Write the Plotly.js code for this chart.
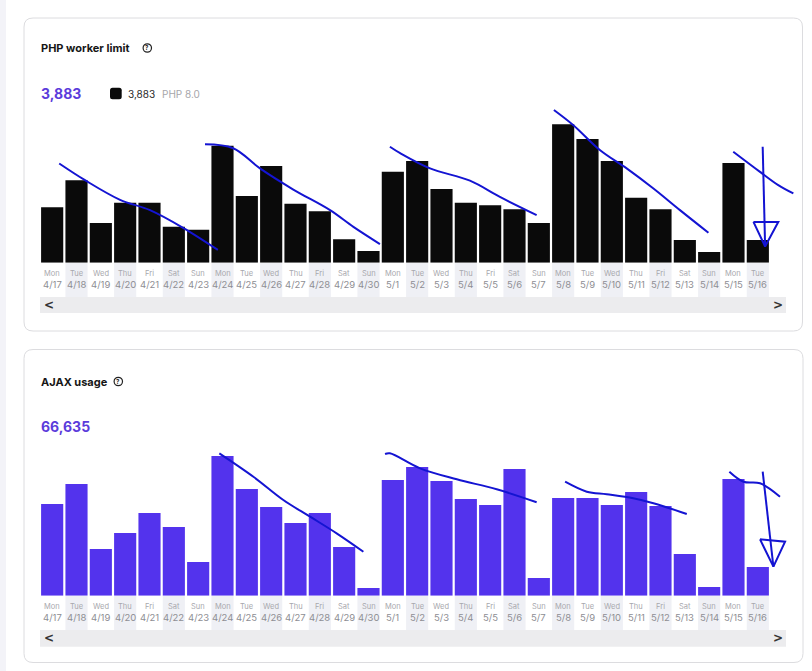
<!DOCTYPE html>
<html>
<head>
<meta charset="utf-8">
<script src="https://cdn.plot.ly/plotly-3.0.1.min.js"></script>
<style>
  html, body { margin: 0; padding: 0; background: #ffffff; }
  #chart { width: 812px; height: 671px; }
</style>
</head>
<body>
<div id="chart"></div>
<script>
// ---- Data ----
const days = ['Mon','Tue','Wed','Thu','Fri','Sat','Sun','Mon','Tue','Wed','Thu','Fri','Sat','Sun',
              'Mon','Tue','Wed','Thu','Fri','Sat','Sun','Mon','Tue','Wed','Thu','Fri','Sat','Sun','Mon','Tue'];
const dates = ['4/17','4/18','4/19','4/20','4/21','4/22','4/23','4/24','4/25','4/26','4/27','4/28','4/29','4/30',
               '5/1','5/2','5/3','5/4','5/5','5/6','5/7','5/8','5/9','5/10','5/11','5/12','5/13','5/14','5/15','5/16'];
const phpWorkerLimit = [113,168,81,122,122,73,67,238,136,197,120,105,48,24,185,207,150,122,117,109,81,282,252,207,132,109,46,22,203,46];
const ajaxUsage = [2535,3087,1291,1733,2286,1899,931,3861,2949,2452,2009,2286,1346,213,3198,3557,3170,2673,2507,3502,489,2700,2700,2507,2866,2479,1153,240,3226,793];
const phpTotal = '3,883';
const phpVersion = 'PHP 8.0';
const ajaxTotal = '66,635';

// Hand-drawn trend strokes (x = day index, y = value on that chart's scale)
const phpStrokesX = [
  [0.29,1.35,2.79,4.02,5.38,6.81],
  [6.28,7.44,8.54,9.91,11.42,12.38,13.47],
  [13.88,14.3,15.53,17.17,18.4,19.91],
  [20.62,21.42,22.52,23.61,24.71,25.8,26.97],
  [27.99,29.09,29.84,30.46],
  [29.2,29.3]
];
const phpStrokesY = [
  [202,168,128,107,71,26],
  [241,233,192,149,107,73,38],
  [236,223,192,167,134,97],
  [311,280,229,192,151,107,61],
  [226,185,158,141],
  [236,33]
];
const phpArrowX = [28.82,29.84,29.3,28.82];
const phpArrowY = [83,83,33,83];
const ajaxStrokesX = [
  [6.87,8.27,9.5,10.6,11.69,12.79],
  [13.68,13.88,15.12,16.63,18.27,19.91],
  [21.08,21.97,22.79,23.88,24.71,26.08],
  [27.83,28.41,29.09,29.91],
  [29.2,29.64]
];
const ajaxStrokesY = [
  [3936,3289,2645,2184,1725,1216],
  [3917,3936,3521,3217,2941,2582],
  [3151,2875,2803,2692,2554,2258],
  [3427,3151,3107,2736],
  [3427,802]
];
const ajaxArrowX = [29.09,30.12,29.64,29.09];
const ajaxArrowY = [1559,1493,802,1559];

// ---- Layout helpers (pixel -> paper) ----
const W = 812, H = 671;
const fx = x => x / W;
const fy = y => 1 - y / H;
function roundRect(x0, y0, x1, y1, r) {
  const X = fx, Y = fy;
  return `M ${X(x0 + r)} ${Y(y0)} L ${X(x1 - r)} ${Y(y0)} Q ${X(x1)} ${Y(y0)} ${X(x1)} ${Y(y0 + r)} ` +
         `L ${X(x1)} ${Y(y1 - r)} Q ${X(x1)} ${Y(y1)} ${X(x1 - r)} ${Y(y1)} ` +
         `L ${X(x0 + r)} ${Y(y1)} Q ${X(x0)} ${Y(y1)} ${X(x0)} ${Y(y1 - r)} ` +
         `L ${X(x0)} ${Y(y0 + r)} Q ${X(x0)} ${Y(y0)} ${X(x0 + r)} ${Y(y0)} Z`;
}

const idx = dates.map((d, i) => i);
const purple = '#5333ed';
const strokeColor = '#1414d2';

const traces = [
  { type: 'bar', x: idx, y: phpWorkerLimit, xaxis: 'x', yaxis: 'y',
    marker: { color: '#0a0a0a' }, hoverinfo: 'skip' },
  { type: 'bar', x: idx, y: ajaxUsage, xaxis: 'x2', yaxis: 'y2',
    marker: { color: purple }, hoverinfo: 'skip' }
];
phpStrokesX.forEach((xs, k) => traces.push({
  type: 'scatter', mode: 'lines', x: xs, y: phpStrokesY[k], xaxis: 'x', yaxis: 'y',
  line: { color: strokeColor, width: 2, shape: 'spline' }, hoverinfo: 'skip'
}));
traces.push({ type: 'scatter', mode: 'lines', x: phpArrowX, y: phpArrowY, xaxis: 'x', yaxis: 'y',
  line: { color: strokeColor, width: 2 }, hoverinfo: 'skip' });
ajaxStrokesX.forEach((xs, k) => traces.push({
  type: 'scatter', mode: 'lines', x: xs, y: ajaxStrokesY[k], xaxis: 'x2', yaxis: 'y2',
  line: { color: strokeColor, width: 2, shape: 'spline' }, hoverinfo: 'skip'
}));
traces.push({ type: 'scatter', mode: 'lines', x: ajaxArrowX, y: ajaxArrowY, xaxis: 'x2', yaxis: 'y2',
  line: { color: strokeColor, width: 2 }, hoverinfo: 'skip' });

// geometry
const pitch = 24.333;
const xDom = [fx(40), fx(40 + pitch * 31.5)];
const base1 = 262.7, scale1 = 2.036, top1 = 320;
const base2 = 595.7, scale2 = 27.64, top2 = 4000;

const shapes = [];
const annotations = [];

// left strip
shapes.push({ type: 'rect', xref: 'paper', yref: 'paper', x0: 0, x1: fx(6), y0: 0, y1: 1,
  fillcolor: '#f3f3f8', line: { width: 0 }, layer: 'below' });
// cards
shapes.push({ type: 'path', xref: 'paper', yref: 'paper', path: roundRect(24, 18, 802.5, 331, 9),
  fillcolor: '#ffffff', line: { color: '#dcdcdf', width: 1 }, layer: 'below' });
shapes.push({ type: 'path', xref: 'paper', yref: 'paper', path: roundRect(24, 349.5, 803, 662.5, 9),
  fillcolor: '#ffffff', line: { color: '#dcdcdf', width: 1 }, layer: 'below' });

function panel(xref, labelTop, labelBottom, scrollTop, scrollBottom, dayY, dateY) {
  dates.forEach((d, i) => {
    if (i % 2 === 1) {
      shapes.push({ type: 'rect', xref: xref, yref: 'paper', x0: i - 0.455, x1: i + 0.455,
        y0: fy(labelBottom), y1: fy(labelTop), fillcolor: '#eff0f5', line: { width: 0 }, layer: 'below' });
    }
    annotations.push({ xref: xref, yref: 'paper', x: i, y: fy(dayY), text: days[i], showarrow: false,
      xanchor: 'center', yanchor: 'middle', font: { family: 'Inter, Roboto, sans-serif', size: 7.5, color: '#a8a8ad' } });
    annotations.push({ xref: xref, yref: 'paper', x: i, y: fy(dateY), text: d, showarrow: false,
      xanchor: 'center', yanchor: 'middle', font: { family: 'Inter, Roboto, sans-serif', size: 9.5, color: '#8e8e93' } });
  });
  shapes.push({ type: 'rect', xref: 'paper', yref: 'paper', x0: fx(40), x1: fx(786),
    y0: fy(scrollBottom), y1: fy(scrollTop), fillcolor: '#ececee', line: { width: 0 }, layer: 'below' });
  annotations.push({ xref: 'paper', yref: 'paper', x: fx(48.5), y: fy((scrollTop + scrollBottom) / 2), text: '<b>&lt;</b>',
    showarrow: false, xanchor: 'center', yanchor: 'middle', font: { family: 'DejaVu Sans, sans-serif', size: 12, color: '#333' } });
  annotations.push({ xref: 'paper', yref: 'paper', x: fx(777.5), y: fy((scrollTop + scrollBottom) / 2), text: '<b>&gt;</b>',
    showarrow: false, xanchor: 'center', yanchor: 'middle', font: { family: 'DejaVu Sans, sans-serif', size: 12, color: '#333' } });
}
panel('x', 263, 297, 297, 313, 274, 284.5);
panel('x2', 596, 630, 630, 646.7, 606.5, 617.5);

function header(title, titleEndX, titleY, total, totalY) {
  annotations.push({ xref: 'paper', yref: 'paper', x: fx(39), y: fy(titleY), text: '<b>' + title + '</b>',
    showarrow: false, xanchor: 'left', yanchor: 'middle', font: { family: 'Inter, sans-serif', size: 11, color: '#161616' } });
  const cx = titleEndX;
  shapes.push({ type: 'circle', xref: 'paper', yref: 'paper', x0: fx(cx - 4.2), x1: fx(cx + 4.2),
    y0: fy(titleY + 4.2), y1: fy(titleY - 4.2), line: { color: '#222', width: 1.2 }, fillcolor: 'rgba(0,0,0,0)' });
  annotations.push({ xref: 'paper', yref: 'paper', x: fx(cx), y: fy(titleY), text: '<b>?</b>',
    showarrow: false, xanchor: 'center', yanchor: 'middle', font: { family: 'Inter, sans-serif', size: 6, color: '#222' } });
  annotations.push({ xref: 'paper', yref: 'paper', x: fx(38.5), y: fy(totalY), text: '<b>' + total + '</b>',
    showarrow: false, xanchor: 'left', yanchor: 'middle', font: { family: 'Inter, sans-serif', size: 14, color: '#5b3cdb' } });
}
header('PHP worker limit', 147.3, 48, phpTotal, 93.5);
header('AJAX usage', 118.3, 381.5, ajaxTotal, 426);

// legend for PHP chart
shapes.push({ type: 'path', xref: 'paper', yref: 'paper', path: roundRect(110, 87.7, 121.7, 99.2, 2.5),
  fillcolor: '#0a0a0a', line: { width: 0 } });
annotations.push({ xref: 'paper', yref: 'paper', x: fx(126), y: fy(93.5), text: phpTotal,
  showarrow: false, xanchor: 'left', yanchor: 'middle', font: { family: 'Inter, sans-serif', size: 10, color: '#2a2a2a' } });
annotations.push({ xref: 'paper', yref: 'paper', x: fx(159.5), y: fy(93.5), text: phpVersion,
  showarrow: false, xanchor: 'left', yanchor: 'middle', font: { family: 'Inter, sans-serif', size: 10, color: '#a6a6aa' } });

const hiddenX = { range: [-0.5, 31], domain: xDom, showgrid: false, zeroline: false,
  showticklabels: false, ticks: '', showline: false, fixedrange: true };
const layout = {
  width: W, height: H,
  margin: { l: 0, r: 0, t: 0, b: 0 },
  paper_bgcolor: '#ffffff', plot_bgcolor: 'rgba(0,0,0,0)',
  showlegend: false,
  bargap: 0.09,
  xaxis: Object.assign({ anchor: 'y' }, hiddenX),
  xaxis2: Object.assign({ anchor: 'y2' }, hiddenX),
  yaxis: { anchor: 'x', range: [0, top1], domain: [fy(base1), fy(base1 - top1 / scale1)],
    showgrid: false, zeroline: false, showticklabels: false, ticks: '', showline: false },
  yaxis2: { anchor: 'x2', range: [0, top2], domain: [fy(base2), fy(base2 - top2 / scale2)],
    showgrid: false, zeroline: false, showticklabels: false, ticks: '', showline: false },
  shapes: shapes,
  annotations: annotations
};

Plotly.newPlot('chart', traces, layout, { staticPlot: true, displayModeBar: false });
</script>
</body>
</html>
